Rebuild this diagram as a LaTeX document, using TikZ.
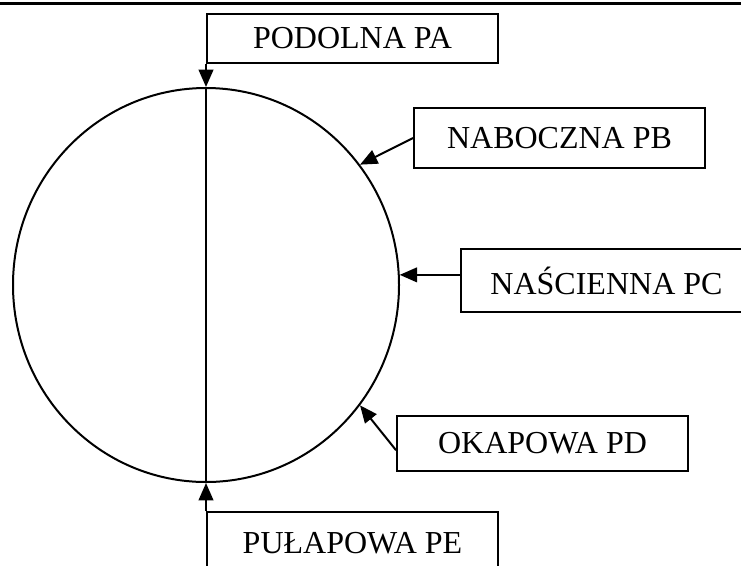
\documentclass[tikz,border=0pt]{standalone}
\usepackage{fontspec}
\setmainfont{Liberation Serif}
\usetikzlibrary{arrows.meta,shapes.geometric}

\tikzset{every picture/.style={line width=1.5pt}}
\tikzset{
  ramka/.style={draw, rectangle, anchor=north west, inner sep=0pt, minimum width=218.25pt, font=\fontsize{24}{28}\selectfont},
  strzalka/.style={-{Triangle[length=13pt,width=11pt]}}
}

\begin{document}
\begin{tikzpicture}[x=0.75pt,y=0.75pt,yscale=-1,xscale=1]
\useasboundingbox (0,0) rectangle (741,565);

%Straight Lines (rule at the top)
\draw [line width=2.6pt] (0,3.5) -- (741,3.5) ;

%Shape: Ellipse
\node [draw, ellipse, inner sep=0pt, minimum width=289.5pt, minimum height=295.5pt] (kolo) at (206,285) {} ;

% Text Node
\node [ramka, minimum height=36.75pt] (pa) at (206,13) {PODOLNA PA};
% Text Node
\node [ramka, minimum height=45pt] (pb) at (413,107) {NABOCZNA PB};
% Text Node
\node [ramka, minimum height=47.25pt] (pc) at (460,248) {NAŚCIENNA PC};
% Text Node
\node [ramka, minimum height=41.25pt] (pd) at (396,415) {OKAPOWA PD};
% Text Node
\node [ramka, minimum height=46.5pt] (pe) at (206,511) {PUŁAPOWA PE};

%Straight Lines
\draw [strzalka] (pa.south west) -- (kolo.north) ;
\draw (kolo.north) -- (kolo.south) ;
\draw [strzalka] (pe.north west) -- (kolo.south) ;
%Straight Lines
\draw [strzalka] (pb.west) -- (kolo.38) ;
\draw [strzalka] (pc.west |- kolo.3) -- (kolo.3) ;
\draw [strzalka] ([yshift=5pt]pd.west) -- (kolo.-38) ;

\end{tikzpicture}
\end{document}
